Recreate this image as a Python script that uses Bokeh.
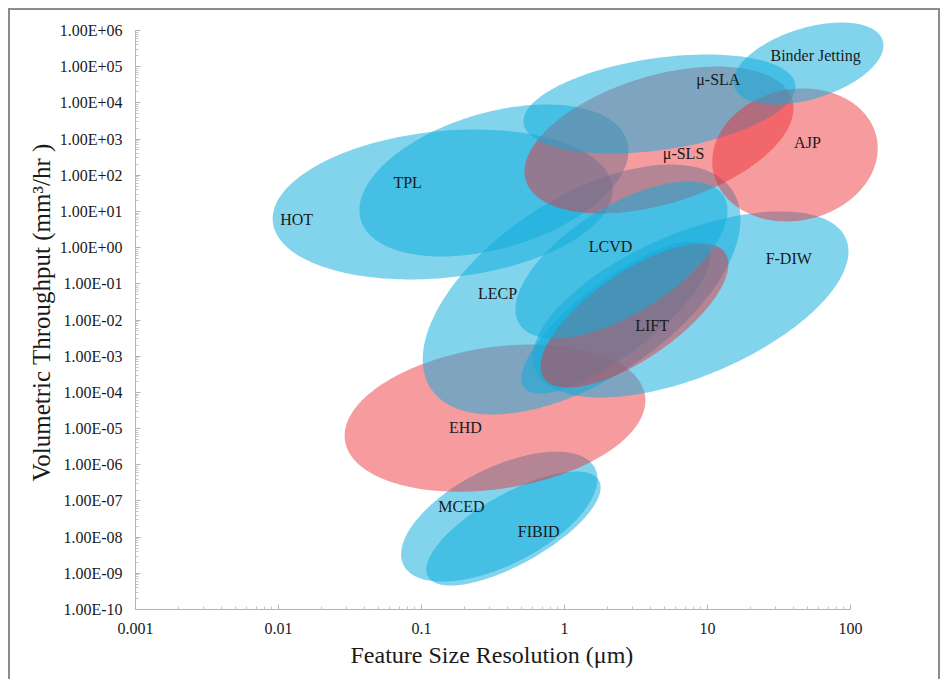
import numpy as np
from bokeh.plotting import figure
from bokeh.models import Range1d, FixedTicker, CustomJSTickFormatter, ColumnDataSource, Title
from bokeh.core.properties import value
from bokeh.embed import file_html
from bokeh.resources import INLINE

# ---- process windows (drawing order) ----
proc_names = ["MCED", "FIBID", "EHD", "HOT", "TPL", "LECP", "F-DIW", "LIFT (2)",
              "LIFT", "μ-SLS", "LCVD", "μ-SLA", "AJP", "Binder Jetting"]
proc_group = ["blue", "blue", "red", "blue", "blue", "blue", "blue", "blue",
              "red", "red", "blue", "blue", "red", "blue"]
# feature size range (µm)
size_lo = [0.072, 0.108, 0.029, 0.0091, 0.0368, 0.102, 0.60, 0.50,
           0.68, 0.525, 0.454, 0.516, 10.8, 15.2]
size_hi = [1.70, 1.79, 3.68, 2.17, 2.80, 17.0, 96.8, 10.5,
           14.0, 39.9, 13.8, 41.2, 155.0, 170.0]
# volumetric throughput range (mm^3/hr)
thr_lo = [5.9e-10, 4.6e-10, 1.8e-7, 0.132, 0.569, 2.45e-5, 7.2e-5, 9.3e-5,
          1.36e-4, 8.8, 3.1e-3, 400.0, 5.3, 9.0e3]
thr_hi = [2.3e-6, 6.5e-7, 2.1e-3, 1840.0, 9020.0, 198.0, 10.0, 1.48,
          1.30, 1.01e5, 67.0, 2.17e5, 2.5e4, 1.66e6]
# correlation (tilt) of each window in log-log space
tilt = [0.58, 0.72, 0.24, 0.19, 0.39, 0.56, 0.57, 0.80,
        0.71, 0.43, 0.63, 0.35, 0.10, 0.44]

# ---- labels ----
label_text = ["Binder Jetting", "μ-SLA", "AJP", "μ-SLS", "TPL", "HOT", "LCVD",
              "F-DIW", "LECP", "LIFT", "EHD", "MCED", "FIBID"]
label_x = [57.0, 11.9, 50.0, 6.8, 0.080, 0.0134, 2.1, 37.0, 0.34, 4.1, 0.203, 0.19, 0.66]
label_y = [2.0e5, 4.4e4, 800.0, 400.0, 63.0, 6.0, 1.07, 0.50, 0.054, 7.0e-3,
           1.07e-5, 7.0e-8, 1.43e-8]

# ---- axes ----
x_title = "Feature Size Resolution (μm)"
y_title = "Volumetric Throughput (mm³/hr )"
x_major = [10.0 ** k for k in range(-3, 3)]
y_major = [10.0 ** k for k in range(-10, 7)]
x_minor = [m * 10.0 ** k for k in range(-3, 2) for m in range(2, 10)]
y_minor = [m * 10.0 ** k for k in range(-10, 6) for m in range(2, 10)]

colors = {"blue": "#10ACDC", "red": "#EB2D32"}
alphas = {"blue": 0.52, "red": 0.47}

FW, FH = 772, 594
DX = 143.0          # px per decade on x
DY = 579.0 / 16     # px per decade on y
x_end = 10 ** (-3 + FW / DX)
y_end = 10 ** (-10 + FH / DY)

p = figure(x_axis_type="log", y_axis_type="log",
           x_range=Range1d(1e-3, x_end), y_range=Range1d(1e-10, y_end),
           frame_width=FW, frame_height=FH,
           min_border_left=125, min_border_right=31, min_border_top=5, min_border_bottom=72,
           output_backend="svg", toolbar_location=None)
p.outline_line_color = None
p.xgrid.visible = False
p.ygrid.visible = False
p.background_fill_color = "white"
p.border_fill_color = "white"
p.styles = {"border": "2px solid #8c8c8c", "margin-left": "8px", "margin-top": "8px"}

t = np.linspace(0, 2 * np.pi, 240)
xs, ys, fc, fa = [], [], [], []
for lo, hi, ylo, yhi, r, g in zip(size_lo, size_hi, thr_lo, thr_hi, tilt, proc_group):
    cx = (np.log10(lo) + np.log10(hi)) / 2
    w = (np.log10(hi) - np.log10(lo)) / 2
    cy = (np.log10(ylo) + np.log10(yhi)) / 2
    h = (np.log10(yhi) - np.log10(ylo)) / 2
    lx = cx + w * np.cos(t)
    ly = cy + h * (r * np.cos(t) + np.sqrt(1 - r * r) * np.sin(t))
    xs.append(list(10 ** lx))
    ys.append(list(10 ** ly))
    fc.append(colors[g])
    fa.append(alphas[g])

src = ColumnDataSource(dict(xs=xs, ys=ys, fc=fc, fa=fa, name=proc_names))
p.patches("xs", "ys", source=src, fill_color="fc", fill_alpha="fa", line_color=None)

lsrc = ColumnDataSource(dict(x=label_x, y=label_y, text=label_text))
p.text("x", "y", text="text", source=lsrc, text_font=value("Liberation Serif"),
       text_font_size="16px", text_color="#1a1a1a", text_align="center",
       text_baseline="middle")

p.xaxis.ticker = FixedTicker(ticks=x_major, minor_ticks=x_minor)
p.yaxis.ticker = FixedTicker(ticks=y_major, minor_ticks=y_minor)
p.xaxis.bounds = (1e-3, 1e2)
p.yaxis.bounds = (1e-10, 1e6)
p.yaxis.formatter = CustomJSTickFormatter(code="""
const e = Math.round(Math.log10(tick));
const a = Math.abs(e);
return "1.00E" + (e < 0 ? "-" : "+") + (a < 10 ? "0" : "") + a;
""")
p.xaxis.formatter = CustomJSTickFormatter(code="""
const e = Math.round(Math.log10(tick));
return e >= 0 ? String(Math.pow(10, e)) : Math.pow(10, e).toFixed(-e);
""")

for ax in (p.xaxis[0], p.yaxis[0]):
    ax.axis_line_color = "#b4b4b4"
    ax.major_tick_line_color = "#b4b4b4"
    ax.minor_tick_line_color = "#c4c4c4"
    ax.major_tick_in = 5
    ax.major_tick_out = 0
    ax.minor_tick_in = 3
    ax.minor_tick_out = 0
    ax.major_label_text_font = "Liberation Serif"
    ax.major_label_text_font_size = "16px"
    ax.major_label_text_color = "#1a1a1a"
    ax.major_label_standoff = 13

# axis titles, placed along the axis extent
xt = Title(text=x_title, align="left", offset=215, standoff=7,
           text_font="Liberation Serif", text_font_size="24px", text_font_style="normal",
           text_color="#1a1a1a")
yt = Title(text=y_title, align="left", offset=128, standoff=4,
           text_font="Liberation Serif", text_font_size="25px", text_font_style="normal",
           text_color="#1a1a1a")
p.add_layout(xt, "below")
p.add_layout(yt, "left")

open("out.html", "w").write(file_html(p, INLINE))
